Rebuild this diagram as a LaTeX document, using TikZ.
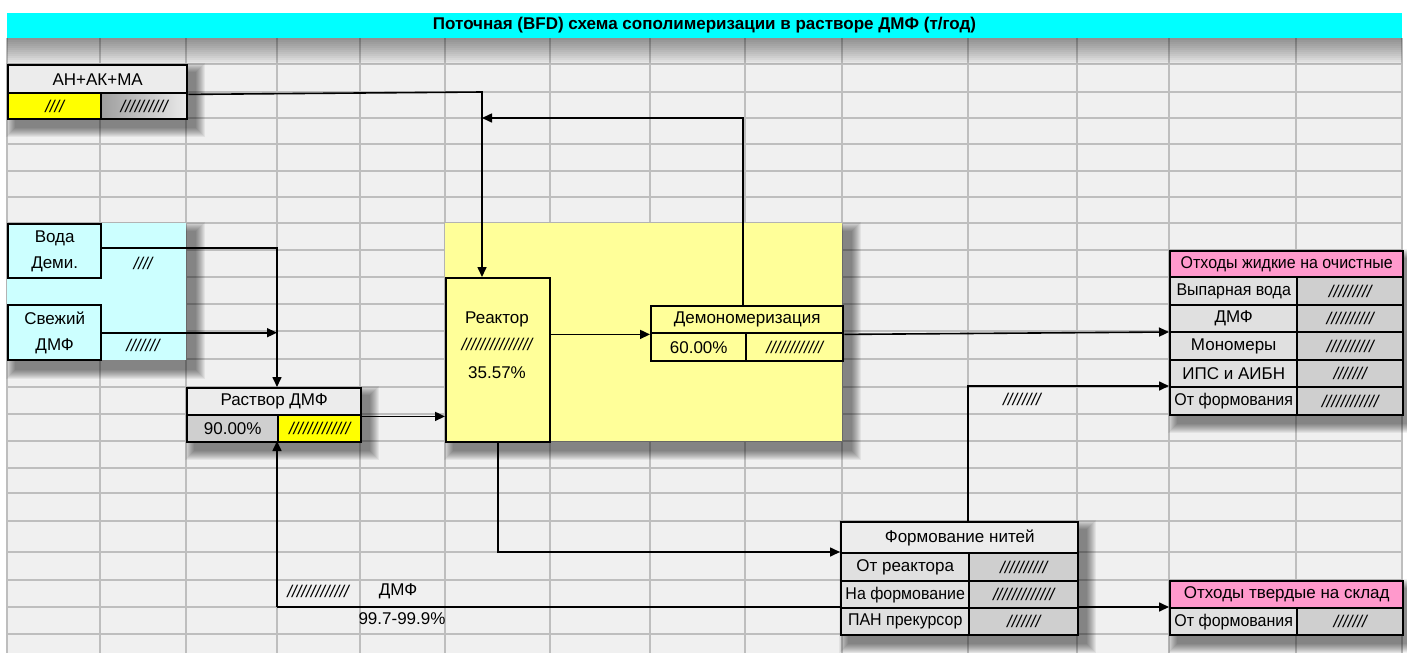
\documentclass[tikz,border=0pt]{standalone}
\usepackage{graphicx}
\usepackage{fontspec}
\setmainfont{Liberation Sans}
\usetikzlibrary{arrows.meta,calc}
\definecolor{gridbg}{HTML}{F0F0F0}
\definecolor{gridln}{HTML}{BEBEBE}
\definecolor{titlecyan}{HTML}{00FFFF}
\definecolor{lightcyan}{HTML}{CCFFFF}
\definecolor{paleyellow}{HTML}{FFFF99}
\definecolor{brightyellow}{HTML}{FFFF00}
\definecolor{pinkhead}{HTML}{FF99CC}
\definecolor{headgray}{HTML}{ECECEC}
\definecolor{labgray}{HTML}{E0E0E0}
\definecolor{valgray}{HTML}{CFCFCF}
\newcommand\fs{\fontsize{17}{26}\selectfont}
\newcommand\cond[1]{\scalebox{0.94}[1]{#1}}
\newcommand\softshadow[4]{%
  \foreach \s in {1,...,10}{\fill[black,opacity=0.055] ({#1+9-\s},{#2+9-\s}) rectangle ({#3+9+\s},{#4+9+\s});}}
\newcommand\cellnode[7]{%
  \node[cellbox, fill=#6, minimum width=#4pt, minimum height=#5pt] (#1) at (#2,#3) {#7};}
\begin{document}
\begin{tikzpicture}[x=1pt,y=-1pt,
  cellbox/.style={draw=black, line width=2.4pt, inner sep=0pt, anchor=north west, font=\fs, align=center, text=black},
  flow/.style={line width=1.6pt, -{Triangle[length=10pt,width=9pt]}},
  lbl/.style={font=\fs, align=center, inner sep=0pt},
  sl/.style={font=\fs\itshape, inner sep=0pt}]
\useasboundingbox (0,0) rectangle (1407,653);
\fill[white] (0,0) rectangle (1407,653);
\fill[gridbg] (7,38) rectangle (1402,653);
\foreach \xx in {7,100,186,277,360,445,550,650,745,842,968,1077,1169,1296,1402}
  \draw[gridln,line width=1.2pt] (\xx,38) -- (\xx,653);
\foreach \yy in {64,92,118,144,171,197,223,250,277,304,331,359,387,414,441,468,493,521,552,580,607,634}
  \draw[gridln,line width=1.2pt] (7,\yy) -- (1402,\yy);
% shadow under title
\foreach \s in {1,...,13}{\fill[black,opacity=0.035] (7,38) rectangle (1402,{38+2*\s});}
% title
\node[fill=titlecyan, minimum width=1395pt, minimum height=25pt, inner sep=0pt,
      font=\fontsize{17}{19}\selectfont\bfseries] (title) at (704.5,25.5)
  {Поточная (BFD) схема сополимеризации в растворе ДМФ (т/год)};
% region shadows and regions
\softshadow{7}{223}{186}{360}
\softshadow{445}{223}{842}{441}
\softshadow{7}{64}{186}{118}
\softshadow{186}{387}{360}{441}
\softshadow{840}{521}{1077}{634}
\softshadow{1169}{250}{1402}{414}
\softshadow{1169}{580}{1402}{634}
\fill[lightcyan] (7,223) rectangle (186,360);
\fill[paleyellow] (445,223) rectangle (842,441);
% junction coordinates
\coordinate (j1) at (482,92);
\coordinate (j2) at (743,118);
\coordinate (j3) at (277,248);
\coordinate (j4) at (968,386);
\coordinate (j5) at (277,607);
% boxes
\cellnode{an}{7}{64}{179}{28}{headgray}{АН+АК+МА}
\cellnode{anA}{7}{92}{93}{26}{brightyellow}{\itshape ////}
\node[cellbox, left color=black!38, right color=black!8, minimum width=86pt, minimum height=26pt] (anB) at (100,92) {\itshape //////////};
\cellnode{voda}{7}{223}{93}{54}{lightcyan}{Вода\\Деми.}
\cellnode{svezh}{7}{304}{93}{55}{lightcyan}{Свежий\\ДМФ}
\node[sl] (vodaval) at (143,263) {////};
\node[sl] (svezhval) at (143,345) {///////};
\cellnode{rast}{186}{387}{174}{27}{headgray}{Раствор ДМФ}
\cellnode{rastA}{186}{414}{91}{27}{valgray}{90.00\%}
\cellnode{rastB}{277}{414}{83}{27}{brightyellow}{\itshape /////////////}
\cellnode{reactor}{445}{277}{104}{164}{paleyellow}{}
\node[lbl, font=\fontsize{17}{27.5}\selectfont] (reactortxt) at (497,345) {Реактор\\{\itshape ///////////////}\\35.57\%};
\cellnode{demo}{650}{305}{192}{27}{paleyellow}{Демономеризация}
\cellnode{demoA}{650}{332}{95}{28}{paleyellow}{60.00\%}
\cellnode{demoB}{745}{332}{97}{28}{paleyellow}{\itshape ////////////}
% connectors
\draw[flow] (an.south east) -- (j1) -- (j1 |- reactor.north);
\draw[flow] (j2 |- demo.north) -- (j2) -- (j1 |- j2);
\draw[flow] (voda.east |- j3) -- (j3) -- (j3 |- rast.north);
\draw[flow] (svezh.east) -- (j3 |- svezh.east);
\draw[flow] (rast.south east) -- (rast.south east -| reactor.west);
\draw[flow] (reactor.east |- demo.south west) -- (demo.south west);
\coordinate (ozhw) at (1169,332);
\draw[flow] (demo.south east) -- (ozhw);
\coordinate (formw) at (840,552);
\draw[flow] (reactor.south) |- (formw);
\coordinate (formn) at (968,521);
\coordinate (ozhw2) at (1169,386);
\draw[flow] (formn) -- (j4) -- (ozhw2);
\coordinate (rastS) at (277,441);
\coordinate (otvw) at (1169,607);
\draw[flow] (j5) -- (rastS);
\draw[flow] (j5) -- (otvw);
% Formovanie
\cellnode{form}{840}{521}{237}{31}{headgray}{Формование нитей}
\cellnode{f1a}{840}{552}{128}{28}{labgray}{От реактора}
\cellnode{f1b}{968}{552}{109}{28}{valgray}{\itshape //////////}
\cellnode{f2a}{840}{580}{128}{27}{labgray}{\cond{На формование}}
\cellnode{f2b}{968}{580}{109}{27}{valgray}{\itshape /////////////}
\cellnode{f3a}{840}{607}{128}{27}{labgray}{\cond{ПАН прекурсор}}
\cellnode{f3b}{968}{607}{109}{27}{valgray}{\itshape ///////}
% liquid waste
\cellnode{ozh}{1169}{250}{233}{26}{pinkhead}{\cond{Отходы жидкие на очистные}}
\cellnode{o1a}{1169}{276}{127}{28}{labgray}{\cond{Выпарная вода}}
\cellnode{o1b}{1296}{276}{106}{28}{valgray}{\itshape /////////}
\cellnode{o2a}{1169}{304}{127}{27}{labgray}{ДМФ}
\cellnode{o2b}{1296}{304}{106}{27}{valgray}{\itshape //////////}
\cellnode{o3a}{1169}{331}{127}{28}{labgray}{Мономеры}
\cellnode{o3b}{1296}{331}{106}{28}{valgray}{\itshape //////////}
\cellnode{o4a}{1169}{359}{127}{27}{labgray}{ИПС и АИБН}
\cellnode{o4b}{1296}{359}{106}{27}{valgray}{\itshape ///////}
\cellnode{o5a}{1169}{386}{127}{28}{labgray}{\cond{От формования}}
\cellnode{o5b}{1296}{386}{106}{28}{valgray}{\itshape ////////////}
% solid waste
\cellnode{otv}{1169}{580}{233}{27}{pinkhead}{Отходы твердые на склад}
\cellnode{t1a}{1169}{607}{127}{27}{labgray}{\cond{От формования}}
\cellnode{t1b}{1296}{607}{106}{27}{valgray}{\itshape ///////}
% free labels
\node[sl] (formval) at (1022,399) {////////};
\node[sl] (dmfval) at (318,591) {/////////////};
\node[lbl] (dmflab) at (398,591) {ДМФ};
\node[lbl] (dmfpct) at (402,619) {99.7-99.9\%};
\end{tikzpicture}
\end{document}
